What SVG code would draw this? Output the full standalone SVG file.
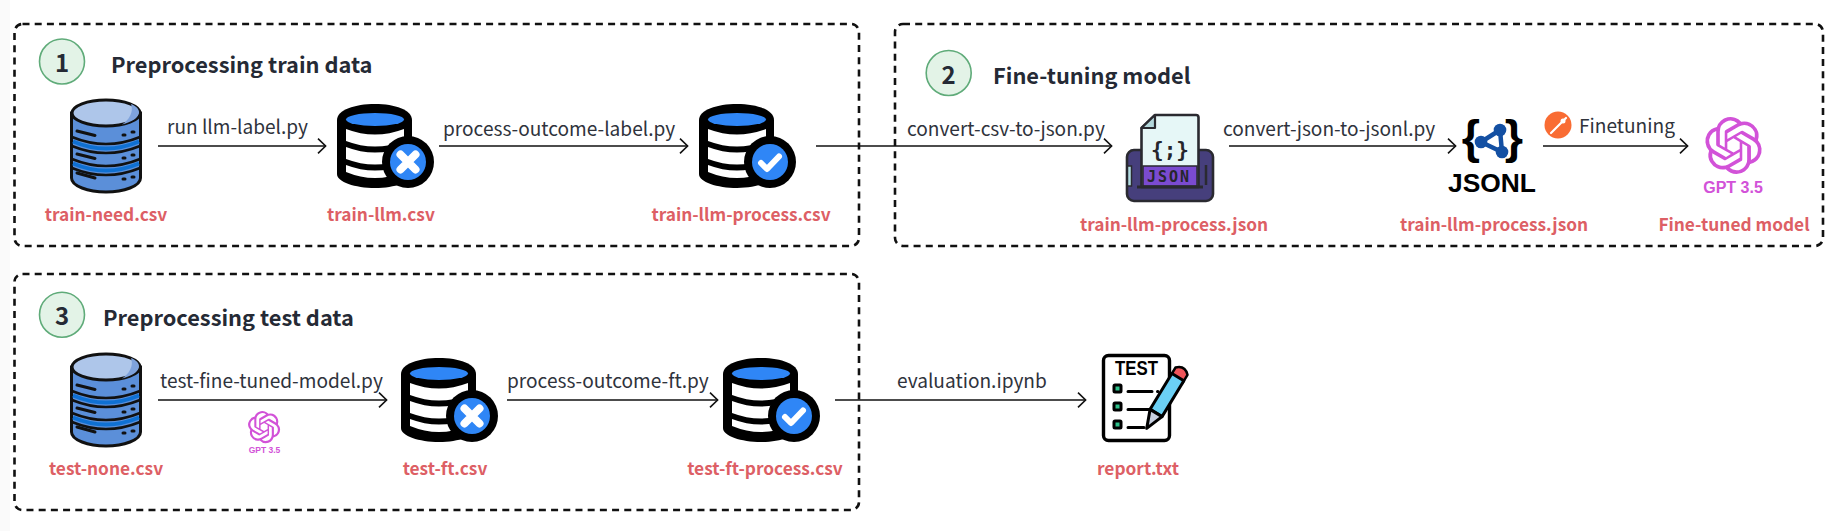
<svg xmlns="http://www.w3.org/2000/svg" xmlns:xlink="http://www.w3.org/1999/xlink" width="1833" height="531" viewBox="0 0 1833 531">
<style>
text{font-family:"Noto Sans CJK SC","Noto Sans",sans-serif}
.frame{fill:none;stroke:#111;stroke-width:2.6;stroke-dasharray:7 5.2}
.num{fill:#e3f3e7;stroke:#5fab79;stroke-width:1.6}
.numt{font-size:24px;font-weight:700;fill:#252a35;text-anchor:middle}
.title{font-size:21.8px;font-weight:700;fill:#252a35}
.lab{font-size:19.1px;fill:#2f333c}
.file{font-size:17.3px;font-weight:700;fill:#dd5f65;text-anchor:middle}
.conn{fill:none;stroke:#111;stroke-width:1.6;marker-end:url(#arrow)}
.gpt{fill:#d252d8}
.gptt{font-family:"Liberation Sans",Arial,sans-serif;font-weight:700;fill:#d252d8;text-anchor:middle}
.k{fill:none;stroke:#111;stroke-width:3;stroke-linecap:round}
.jl{font-family:"Liberation Sans",Arial,sans-serif;font-weight:700;fill:#000;text-anchor:middle}
</style>
<defs>
<marker id="arrow" markerUnits="userSpaceOnUse" markerWidth="14" markerHeight="20" refX="10" refY="10" orient="auto"><path d="M2 2.6L9.6 10L2 17.4" fill="none" stroke="#111" stroke-width="1.6"/></marker>
<g id="dbblue">
<path d="M71.5 113V178C71.5 186 88 192 106 192C124 192 140.500 186 140.500 178V113Z" fill="#5b8fd9" stroke="#111" stroke-width="3"/>
<ellipse cx="106" cy="113" rx="34" ry="13" fill="#aec6ea" stroke="#111" stroke-width="3"/>
<path d="M122 124.500C132 122 138 118 139 113C139.500 109 136 106 131 104C134 112 129 120 122 124.500Z" fill="#7ea2dc"/>
<path d="M72 137Q106 151 140 137M72 146Q106 160 140 146M72 159Q106 173 140 159M72 168Q106 182 140 168" fill="none" stroke="#111" stroke-width="2.600"/>
<path d="M73 141.500Q106 155.500 139 141.500M73 163.500Q106 177.500 139 163.500" fill="none" stroke="#0f70d2" stroke-width="4"/>
<path d="M77 131L95 135.500M77 154L95 158.500M77 173L95 178" class="k" stroke-width="2.500"/>
<path d="M123 135h2M132 132h2M123 158h2M132 155h2M123 179h2M132 177h2" class="k" stroke-width="2.500"/>
</g>
<g id="dbbase">
<path d="M337 120C337 110 355 104 375 104C395 104 412 110 412 120V174C412 182 395 188 375 188C355 188 337 182 337 174Z" fill="#000"/>
<ellipse cx="375" cy="119.500" rx="29" ry="6.500" fill="#2f86f6"/>
<path d="M346 129Q375 140 404 129V141Q375 152 346 141ZM346 147Q375 158 404 147V159Q375 170 346 159ZM346 165Q375 176 404 165V172Q375 184 346 172Z" fill="#fff"/>
<circle cx="408" cy="162" r="26" fill="#000"/>
<circle cx="408" cy="162" r="18" fill="#2f86f6"/>
</g>
<g id="dbx"><use href="#dbbase"/><path d="M400.500 154.500L415.500 169.500M415.500 154.500L400.500 169.500" fill="none" stroke="#fff" stroke-width="8" stroke-linecap="round"/></g>
<g id="dbc"><use href="#dbbase"/><path d="M399 163L405 169L417 156.500" fill="none" stroke="#fff" stroke-width="6" stroke-linecap="round" stroke-linejoin="round"/></g>
<path id="knot" class="gpt" d="M22.2819 9.8211a5.9847 5.9847 0 0 0-.5157-4.9108 6.0462 6.0462 0 0 0-6.5098-2.9A6.0651 6.0651 0 0 0 4.9807 4.1818a5.9847 5.9847 0 0 0-3.9977 2.9 6.0462 6.0462 0 0 0 .7427 7.0966 5.98 5.98 0 0 0 .511 4.9107 6.051 6.051 0 0 0 6.5146 2.9001A5.9847 5.9847 0 0 0 13.2599 24a6.0557 6.0557 0 0 0 5.7718-4.2058 5.9894 5.9894 0 0 0 3.9977-2.9001 6.0557 6.0557 0 0 0-.7475-7.0729zm-9.022 12.6081a4.4755 4.4755 0 0 1-2.8764-1.0408l.1419-.0804 4.7783-2.7582a.7948.7948 0 0 0 .3927-.6813v-6.7369l2.02 1.1686a.071.071 0 0 1 .038.052v5.5826a4.504 4.504 0 0 1-4.4945 4.4944zm-9.6607-4.1254a4.4708 4.4708 0 0 1-.5346-3.0137l.142.0852 4.783 2.7582a.7712.7712 0 0 0 .7806 0l5.8428-3.3685v2.3324a.0804.0804 0 0 1-.0332.0615L9.74 19.9502a4.4992 4.4992 0 0 1-6.1408-1.6464zM2.3408 7.8956a4.485 4.485 0 0 1 2.3655-1.9728V11.6a.7664.7664 0 0 0 .3879.6765l5.8144 3.3543-2.0201 1.1685a.0757.0757 0 0 1-.071 0l-4.8303-2.7865A4.504 4.504 0 0 1 2.3408 7.872zm16.5963 3.8558L13.1038 8.364 15.1192 7.2a.0757.0757 0 0 1 .071 0l4.8303 2.7913a4.4944 4.4944 0 0 1-.6765 8.1042v-5.6772a.79.79 0 0 0-.407-.667zm2.0107-3.0231l-.142-.0852-4.7735-2.7818a.7759.7759 0 0 0-.7854 0L9.409 9.2297V6.8974a.0662.0662 0 0 1 .0284-.0615l4.8303-2.7866a4.4992 4.4992 0 0 1 6.6802 4.66zM8.3065 12.863l-2.02-1.1638a.0804.0804 0 0 1-.038-.0567V6.0742a4.4992 4.4992 0 0 1 7.3757-3.4537l-.142.0805L8.704 5.459a.7948.7948 0 0 0-.3927.6813zm1.0976-2.3654l2.602-1.4998 2.6069 1.4998v2.9994l-2.5974 1.4997-2.6067-1.4997Z"/>
</defs>
<rect width="1833" height="531" fill="#fff"/>
<rect width="10" height="531" fill="#fafafa"/>

<g id="stage-1">
<rect class="frame" x="14.500" y="24" width="844.500" height="222" rx="8"/>
<circle class="num" cx="62" cy="61.500" r="22.500"/>
<text class="numt" x="62" y="72">1</text>
<text class="title" x="111" y="73">Preprocessing train data</text>
</g>
<g id="stage-2">
<rect class="frame" x="895" y="24" width="928" height="222" rx="8"/>
<circle class="num" cx="948.700" cy="73" r="22.500"/>
<text class="numt" x="948.700" y="83.500">2</text>
<text class="title" x="993" y="84">Fine-tuning model</text>
</g>
<g id="stage-3">
<rect class="frame" x="14.500" y="274" width="844.500" height="236" rx="8"/>
<circle class="num" cx="62" cy="314.700" r="22.500"/>
<text class="numt" x="62" y="325">3</text>
<text class="title" x="103" y="326">Preprocessing test data</text>
</g>

<g id="connectors">
<path class="conn" d="M158 146H326"/>
<path class="conn" d="M439 146H688"/>
<path class="conn" d="M816 146H1112"/>
<path class="conn" d="M1229 146H1456"/>
<path class="conn" d="M1543 146H1688"/>
<path class="conn" d="M158 400H387"/>
<path class="conn" d="M507 400H718"/>
<path class="conn" d="M835 400H1086"/>
<text class="lab" x="167" y="134">run llm-label.py</text>
<text class="lab" x="443" y="136">process-outcome-label.py</text>
<text class="lab" x="907" y="136">convert-csv-to-json.py</text>
<text class="lab" x="1223" y="136">convert-json-to-jsonl.py</text>
<text class="lab" x="1579" y="133">Finetuning</text>
<text class="lab" x="160" y="388">test-fine-tuned-model.py</text>
<text class="lab" x="507" y="388">process-outcome-ft.py</text>
<text class="lab" x="897" y="388">evaluation.ipynb</text>
<g id="postman-badge"><circle cx="1558" cy="125" r="13.500" fill="#f96c33"/><path d="M1551 133L1566 118" stroke="#fff" stroke-width="2.200" stroke-linecap="round"/><circle cx="1563" cy="121" r="2.500" fill="#fff"/></g>
<g id="gpt-small"><use href="#knot" transform="translate(248 411) scale(1.34)"/><text class="gptt" x="264.500" y="453" font-size="8.500">GPT 3.5</text></g>
</g>

<g id="train-need"><use href="#dbblue"/><text class="file" x="106" y="221">train-need.csv</text></g>
<g id="train-llm"><use href="#dbx"/><text class="file" x="381" y="221">train-llm.csv</text></g>
<g id="train-llm-process"><use href="#dbc" transform="translate(362 0)"/><text class="file" x="741" y="221">train-llm-process.csv</text></g>

<g id="train-json">
<rect x="1127" y="150" width="86" height="51" rx="7" fill="#463f7c" stroke="#2a2a30" stroke-width="2.600"/>
<rect x="1127.500" y="166" width="4" height="20" fill="#b4dfe4" stroke="#2a2a30" stroke-width="1.500"/>
<path d="M1206 165V185" stroke="#2a2a30" stroke-width="2.500"/>
<path d="M1141.500 187V128L1155 115H1196Q1198.500 115 1198.500 117.500V187Z" fill="#e6f7f7" stroke="#2a2a30" stroke-width="2.600" stroke-linejoin="round"/>
<path d="M1141.500 128H1155V115Z" fill="#b4d8dc" stroke="#2a2a30" stroke-width="2.200" stroke-linejoin="round"/>
<rect x="1143" y="166" width="54" height="20" fill="#7b4bd0" stroke="#2a2a30" stroke-width="1.500"/>
<path d="M1137 187H1203" stroke="#2a2a30" stroke-width="2.800"/>
<text x="1170" y="157" font-size="21" font-weight="700" text-anchor="middle" fill="#26262c" style="font-family:'DejaVu Sans Mono',monospace">{;}</text>
<text x="1169" y="182" font-size="15" font-weight="700" text-anchor="middle" fill="#26262c" letter-spacing="2" style="font-family:'DejaVu Sans Mono',monospace">JSON</text>
<text class="file" x="1174" y="231">train-llm-process.json</text>
</g>

<g id="train-jsonl">
<text class="jl" x="1471" y="153" font-size="47">{</text>
<text class="jl" x="1514" y="153" font-size="47">}</text>
<path d="M1500 130L1481 142L1502 152Z" fill="none" stroke="#1450a3" stroke-width="4.500"/>
<circle cx="1500" cy="130" r="6.300" fill="#1450a3"/><circle cx="1481" cy="142" r="6.300" fill="#1450a3"/><circle cx="1502" cy="152" r="6.300" fill="#1450a3"/>
<text class="jl" x="1492" y="192" font-size="26.400">JSONL</text>
<text class="file" x="1494" y="231">train-llm-process.json</text>
</g>

<g id="fine-tuned-model">
<use href="#knot" transform="translate(1705 117) scale(2.375)"/>
<text class="gptt" x="1733" y="193" font-size="16">GPT 3.5</text>
<text class="file" x="1734" y="231">Fine-tuned model</text>
</g>

<g id="test-none"><use href="#dbblue" transform="translate(0 254)"/><text class="file" x="106" y="475">test-none.csv</text></g>
<g id="test-ft"><use href="#dbx" transform="translate(64 254)"/><text class="file" x="445" y="475">test-ft.csv</text></g>
<g id="test-ft-process"><use href="#dbc" transform="translate(386 254)"/><text class="file" x="765" y="475">test-ft-process.csv</text></g>

<g id="report">
<rect x="1103.500" y="355.500" width="66" height="85" rx="5" fill="#fff" stroke="#000" stroke-width="3.400"/>
<text x="1115" y="375" font-size="19.500" font-weight="700" fill="#000" textLength="43" lengthAdjust="spacingAndGlyphs" style="font-family:'Liberation Sans',sans-serif">TEST</text>
<g fill="#2ec08a" stroke="#000" stroke-width="3"><rect x="1114" y="385" width="7" height="7" rx="1"/><rect x="1114" y="403" width="7" height="7" rx="1"/><rect x="1114" y="421" width="7" height="7" rx="1"/></g>
<path d="M1128 391.500H1152M1157.500 391.500H1158M1128 409.500H1152M1128 427.500H1144" fill="none" stroke="#000" stroke-width="3" stroke-linecap="round"/>
<g transform="translate(1181 372) rotate(31.300)" stroke="#000" stroke-width="3" stroke-linejoin="round">
<path d="M-7 9V-1Q0 -8 7 -1V9Z" fill="#f0555a" stroke-width="2.500"/>
<path d="M-7 6H7V48H-7Z" fill="#6bd0f5"/>
<path d="M-7 48L0 66L7 48Z" fill="#c7cfe0"/>
</g>
<text class="file" x="1138" y="475">report.txt</text>
</g>
</svg>
